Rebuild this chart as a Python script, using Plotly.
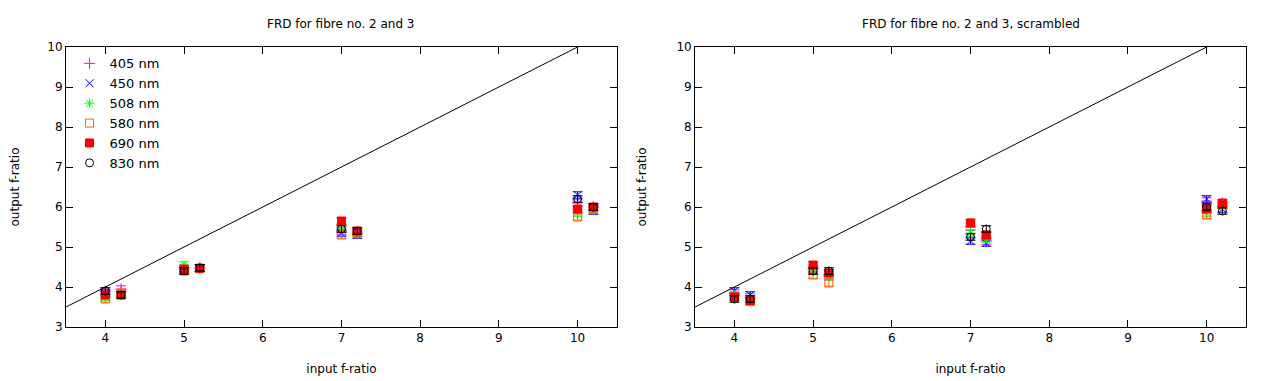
import plotly.graph_objects as go
from plotly.subplots import make_subplots

# input f-ratios (pairs of fibres no. 2 and 3, slightly offset)
x_in = [4.0, 4.2, 5.0, 5.2, 7.0, 7.2, 10.0, 10.2]

wavelengths = ["405 nm", "450 nm", "508 nm", "580 nm", "690 nm", "830 nm"]
colors = ["#ff00ff", "#0000ff", "#00ff00", "#ff6600", "#ff0000", "#000000"]
symbols = ["cross-thin-open", "x-thin-open", "asterisk-open", "square-open", "square", "circle-open"]

# output f-ratio, fibres no. 2 and 3
out_plain_405 = [3.90, 3.95, 4.45, 4.47, 5.40, 5.35, 6.10, 6.00]
out_plain_450 = [3.85, 3.80, 4.40, 4.47, 5.35, 5.30, 6.30, 5.90]
out_plain_508 = [3.75, 3.85, 4.55, 4.48, 5.45, 5.35, 5.85, 5.95]
out_plain_580 = [3.70, 3.85, 4.40, 4.46, 5.30, 5.35, 5.75, 5.95]
out_plain_690 = [3.80, 3.80, 4.45, 4.47, 5.65, 5.40, 5.95, 6.00]
out_plain_830 = [3.90, 3.80, 4.40, 4.48, 5.45, 5.40, 6.20, 6.00]

# output f-ratio, fibres no. 2 and 3, scrambled
out_scr_405 = [3.85, 3.75, 4.45, 4.30, 5.50, 5.15, 6.15, 6.10]
out_scr_450 = [3.90, 3.80, 4.40, 4.35, 5.15, 5.10, 6.20, 5.95]
out_scr_508 = [3.80, 3.70, 4.40, 4.25, 5.35, 5.20, 5.85, 6.05]
out_scr_580 = [3.75, 3.65, 4.30, 4.10, 5.60, 5.30, 5.80, 6.05]
out_scr_690 = [3.75, 3.65, 4.55, 4.35, 5.60, 5.30, 5.95, 6.10]
out_scr_830 = [3.70, 3.70, 4.40, 4.40, 5.25, 5.45, 6.00, 5.90]

err = 0.08

plain = [out_plain_405, out_plain_450, out_plain_508, out_plain_580, out_plain_690, out_plain_830]
scrambled = [out_scr_405, out_scr_450, out_scr_508, out_scr_580, out_scr_690, out_scr_830]

font = "DejaVu Sans"

fig = make_subplots(
    rows=1, cols=2,
    subplot_titles=("FRD for fibre no. 2 and 3", "FRD for fibre no. 2 and 3, scrambled"),
    horizontal_spacing=0.0662,
)

for col, series in ((1, plain), (2, scrambled)):
    for name, color, sym, ys in zip(wavelengths, colors, symbols, series):
        fig.add_trace(go.Scatter(
            x=x_in, y=ys, mode="markers", name=name,
            legendgroup=name, showlegend=(col == 1),
            marker=dict(symbol=sym, size=8, color=color,
                        line=dict(color=color, width=1)),
            error_y=dict(type="constant", value=err, color=color,
                         thickness=1, width=5),
        ), row=1, col=col)
    # y = x reference line
    fig.add_trace(go.Scatter(
        x=[3.5, 10.5], y=[3.5, 10.5], mode="lines",
        line=dict(color="black", width=1), showlegend=False, hoverinfo="skip",
    ), row=1, col=col)

axis_style = dict(
    showline=True, linecolor="black", linewidth=1, mirror="ticks",
    ticks="inside", ticklen=7, tickcolor="black", showgrid=False, zeroline=False,
    automargin=False,
    tickfont=dict(family=font, size=12, color="black"),
)
fig.update_xaxes(range=[3.5, 10.5], dtick=1, title_text="input f-ratio",
                 title_font=dict(family=font, size=12, color="black"),
                 title_standoff=20, **axis_style)
fig.update_yaxes(range=[3, 10], dtick=1, title_text="output f-ratio",
                 title_font=dict(family=font, size=12, color="black"),
                 title_standoff=27, **axis_style)

for ann in fig.layout.annotations:
    ann.font = dict(family=font, size=12, color="black")
    ann.y = 1.05

fig.update_layout(
    width=1253, height=373,
    margin=dict(l=58, r=15, t=39, b=54),
    plot_bgcolor="white", paper_bgcolor="white",
    font=dict(family=font, size=12, color="black"),
    legend=dict(x=0.003, y=0.995, xanchor="left", yanchor="top",
                bgcolor="rgba(0,0,0,0)", tracegroupgap=0,
                font=dict(family=font, size=13, color="black")),
)

fig.write_html("out.html")
